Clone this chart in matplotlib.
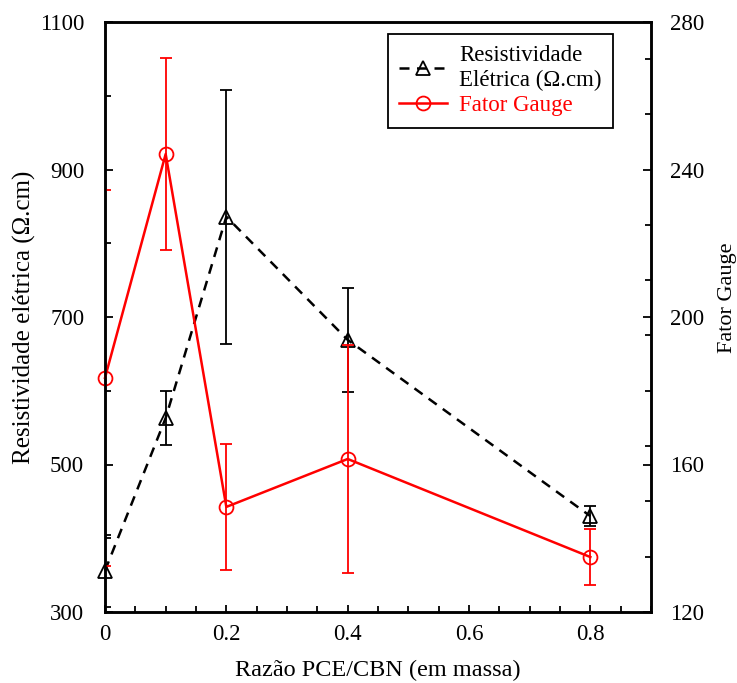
import matplotlib
matplotlib.use("Agg")
import matplotlib.pyplot as plt
from matplotlib.ticker import MultipleLocator, FixedLocator

plt.rcParams['font.family'] = ['Liberation Serif', 'DejaVu Serif']

# data
razao = [0.0, 0.1, 0.2, 0.4, 0.8]
resistividade = [356, 563, 836, 669, 430]
resistividade_err = [49, 36, 172, 71, 14]
fator_gauge = [183.5, 244.2, 148.5, 161.5, 134.9]
fator_gauge_err = [51, 26, 17, 31, 7.6]

fig = plt.figure(figsize=(7.37, 6.83), dpi=100)
ax = fig.add_axes([105/737, 1 - 612/683, (651-105)/737, (612-22)/683])
ax2 = ax.twinx()

fs = 16.5

# black series (left axis)
ax.errorbar(razao, resistividade, yerr=resistividade_err, fmt='none',
            ecolor='black', elinewidth=1.3, capsize=4.5, capthick=1.3)
ax.plot(razao, resistividade, color='black', ls=(0, (4, 3)), lw=1.8,
        marker='^', ms=10, mfc='none', mec='black', mew=1.3, clip_on=False,
        label='Resistividade\nElétrica (Ω.cm)')

# red series (right axis)
ax2.errorbar(razao, fator_gauge, yerr=fator_gauge_err, fmt='none',
             ecolor='red', elinewidth=1.3, capsize=4.5, capthick=1.3)
ax2.plot(razao, fator_gauge, color='red', ls='-', lw=1.8,
         marker='o', ms=10, mfc='none', mec='red', mew=1.3, clip_on=False,
         label='Fator Gauge')

ax.set_xlim(0, 0.9)
ax.set_ylim(300, 1100)
ax2.set_ylim(120, 280)

ax.xaxis.set_major_locator(FixedLocator([0, 0.2, 0.4, 0.6, 0.8]))
ax.xaxis.set_minor_locator(MultipleLocator(0.05))
ax.set_xticklabels(['0', '0.2', '0.4', '0.6', '0.8'])
ax.yaxis.set_major_locator(FixedLocator([300, 500, 700, 900, 1100]))
ax.yaxis.set_minor_locator(FixedLocator([400, 600, 800, 1000]))
ax2.yaxis.set_major_locator(MultipleLocator(40))
ax2.yaxis.set_minor_locator(MultipleLocator(15))

ax.tick_params(axis='y', which='major', direction='in', length=6, width=1.3,
               labelsize=fs, pad=15, right=False)
ax.tick_params(axis='x', which='major', direction='in', length=5, width=1.3,
               labelsize=fs, pad=9, top=False)
ax.tick_params(axis='both', which='minor', direction='in', length=4.5, width=1.3,
               top=False, right=False)
ax2.tick_params(axis='y', which='major', direction='in', length=6, width=1.3,
                labelsize=fs, pad=14)
ax2.tick_params(axis='y', which='minor', direction='in', length=4, width=1.3)

for a in (ax, ax2):
    for s in a.spines.values():
        s.set_linewidth(1.8)

ax.set_xlabel('Razão PCE/CBN (em massa)', fontsize=17.5, labelpad=10)
ax.set_ylabel('Resistividade elétrica (Ω.cm)', fontsize=18, ha='center', va='center')
ax.yaxis.set_label_coords(-0.148, 0.50)
ax2.set_ylabel('Fator Gauge', fontsize=16, ha='center', va='center', rotation=90)
ax2.yaxis.set_label_coords(1.14, 0.532)

h1, l1 = ax.get_legend_handles_labels()
h2, l2 = ax2.get_legend_handles_labels()
leg = ax2.legend(h1 + h2, l1 + l2, loc='upper right', bbox_to_anchor=(0.93, 0.98),
                 fontsize=fs, frameon=True, fancybox=False, framealpha=1,
                 edgecolor='black', numpoints=1, handlelength=2.1,
                 handletextpad=0.5, borderpad=0.5, labelspacing=0.2,
                 borderaxespad=0)
leg.get_frame().set_linewidth(1.3)
leg.get_texts()[1].set_color('red')

fig.savefig('out.png', dpi=100)
